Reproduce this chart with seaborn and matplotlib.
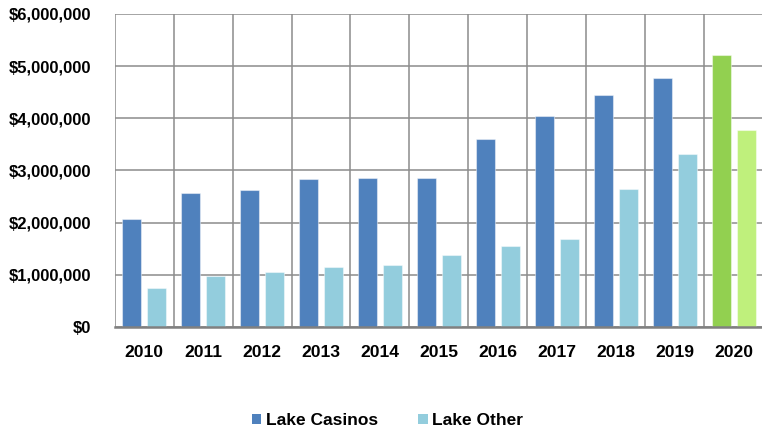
import numpy as np
import pandas as pd
import matplotlib
matplotlib.use("Agg")
import matplotlib.pyplot as plt
from matplotlib.ticker import FuncFormatter, FixedLocator
from matplotlib.patches import Patch
import seaborn as sns

years = ["2010", "2011", "2012", "2013", "2014", "2015", "2016", "2017", "2018", "2019", "2020"]
lake_casinos = [2070000, 2570000, 2620000, 2830000, 2860000, 2850000, 3610000, 4040000, 4450000, 4770000, 5210000]
lake_other = [745000, 985000, 1055000, 1150000, 1195000, 1385000, 1550000, 1680000, 2650000, 3310000, 3780000]
series_names = ["Lake Casinos", "Lake Other"]
highlight_year = "2020"

sns.set_theme(style="white")
plt.rcParams["font.family"] = ["Liberation Sans", "DejaVu Sans"]
plt.rcParams["font.weight"] = "bold"
plt.rcParams["text.color"] = "#000000"

df = pd.DataFrame({
    "year": years * 2,
    "series": [series_names[0]] * len(years) + [series_names[1]] * len(years),
    "value": lake_casinos + lake_other,
})

col_cas = "#4F81BD"
col_oth = "#93CDDD"
col_cas_hi = "#92D050"
col_oth_hi = "#BFF07C"

fig = plt.figure(figsize=(7.62, 4.33), dpi=100)
ax = fig.add_axes([0.1505, 0.2448, 0.851, 0.7229])

sns.barplot(data=df, x="year", y="value", hue="series", order=years,
            hue_order=series_names, palette=[col_cas, col_oth], saturation=1,
            width=0.848, gap=0.23, ax=ax, legend=False,
            edgecolor=(1, 1, 1, 0.45), linewidth=0.8)

# recolor highlight year
hi = years.index(highlight_year)
n = len(years)
patches = ax.patches
if len(patches) >= 2 * n:
    patches[hi].set_facecolor(col_cas_hi)
    patches[n + hi].set_facecolor(col_oth_hi)

ax.set_ylim(0, 6000000)
ax.set_xlim(-0.5, n - 0.5)
ax.yaxis.set_major_locator(FixedLocator(np.arange(0, 6000001, 1000000)))
ax.yaxis.set_major_formatter(FuncFormatter(lambda v, p: "${:,.0f}".format(v)))
ax.set_xticks(range(n))
ax.set_xticklabels(years)
ax.xaxis.set_minor_locator(FixedLocator(np.arange(-0.5, n, 1.0)))

ax.grid(True, axis="y", which="major", color="#8C8C8C", linewidth=1.1)
ax.grid(True, axis="x", which="minor", color="#8C8C8C", linewidth=1.1)
ax.grid(False, axis="x", which="major")
ax.set_axisbelow(True)

for s in ["top", "right", "left"]:
    ax.spines[s].set_visible(False)
ax.spines["bottom"].set_color("#808080")
ax.spines["bottom"].set_linewidth(1.8)

ax.tick_params(axis="both", which="both", length=0)
ax.tick_params(axis="y", pad=17, labelsize=12.0)
ax.tick_params(axis="x", pad=13, labelsize=12.6)
for lbl in ax.get_xticklabels() + ax.get_yticklabels():
    lbl.set_fontweight("bold")
    lbl.set_color("#000000")
ax.set_xlabel("")
ax.set_ylabel("")

handles = [Patch(facecolor=col_cas, edgecolor="none"), Patch(facecolor=col_oth, edgecolor="none")]
leg = fig.legend(handles, series_names, loc="center", bbox_to_anchor=(0.5085, 0.028),
                 ncol=2, frameon=False, handlelength=0.55, handleheight=0.55,
                 handletextpad=0.25, columnspacing=2.35,
                 prop={"weight": "bold", "size": 12.5})
for t in leg.get_texts():
    t.set_color("#000000")

fig.savefig("out.png", dpi=100)
